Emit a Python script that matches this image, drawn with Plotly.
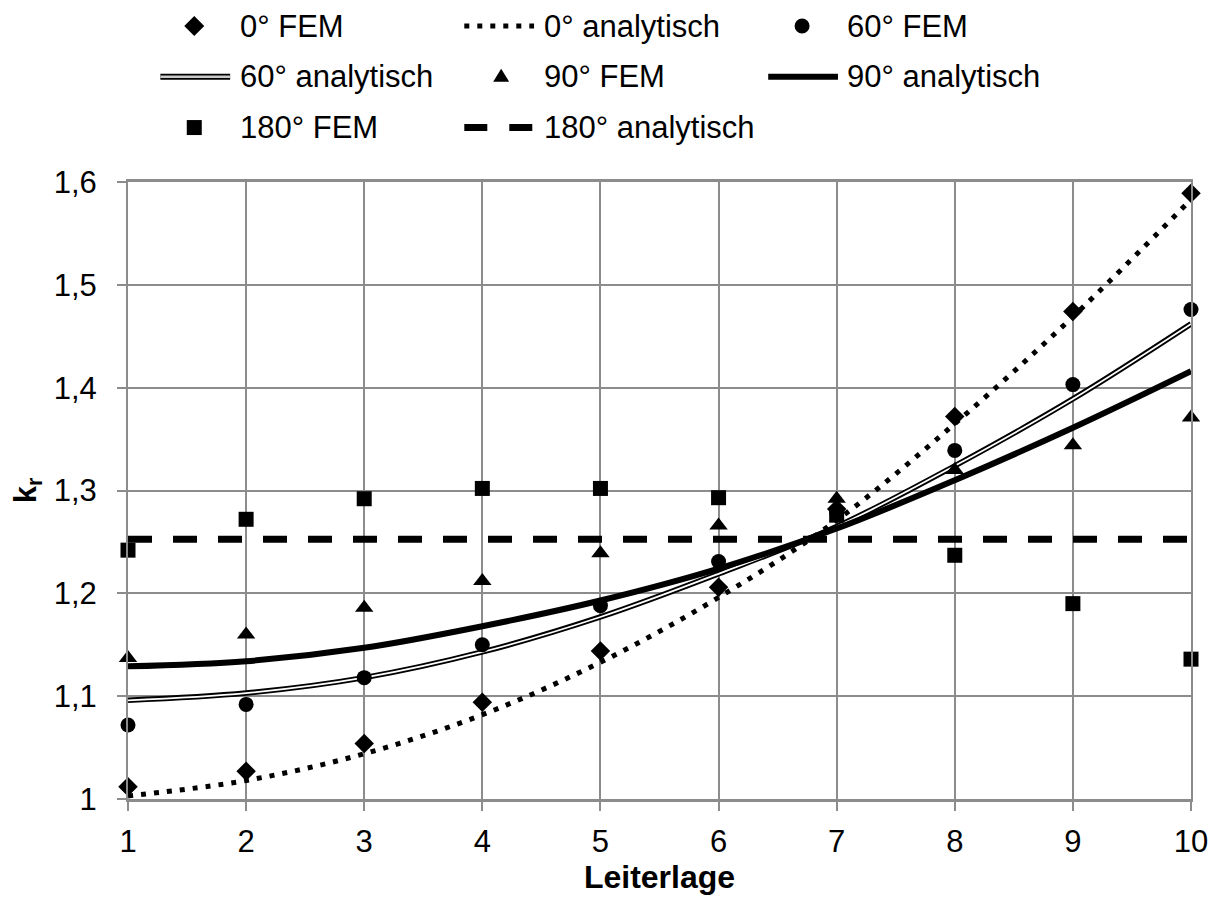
import plotly.graph_objects as go

# Conductor layer numbers (x axis)
layer = [1, 2, 3, 4, 5, 6, 7, 8, 9, 10]

# Resistance factor k_r: FEM results per winding angle
fem_0 = [1.012, 1.027, 1.054, 1.094, 1.144, 1.206, 1.282, 1.372, 1.474, 1.589]
fem_60 = [1.072, 1.092, 1.118, 1.150, 1.188, 1.231, 1.279, 1.339, 1.403, 1.476]
fem_90 = [1.137, 1.160, 1.186, 1.212, 1.239, 1.266, 1.292, 1.320, 1.344, 1.371]
fem_180 = [1.242, 1.272, 1.292, 1.302, 1.302, 1.293, 1.276, 1.237, 1.190, 1.136]

# Resistance factor k_r: analytical model per winding angle
ana_0 = [1.003, 1.018, 1.044, 1.082, 1.133, 1.196, 1.271, 1.365, 1.469, 1.583]
ana_60 = [1.096, 1.103, 1.118, 1.143, 1.177, 1.219, 1.265, 1.324, 1.389, 1.462]
ana_90 = [1.129, 1.134, 1.147, 1.168, 1.193, 1.224, 1.263, 1.310, 1.361, 1.416]
ana_180 = [1.2525, 1.2525, 1.2525, 1.2525, 1.2525, 1.2525, 1.2525, 1.2525, 1.2525, 1.2525]

# Axis ticks
x_tick_vals = layer
x_tick_text = ["1", "2", "3", "4", "5", "6", "7", "8", "9", "10"]
y_tick_vals = [1.0, 1.1, 1.2, 1.3, 1.4, 1.5, 1.6]
y_tick_text = ["1", "1,1", "1,2", "1,3", "1,4", "1,5", "1,6"]

# Legend entries
legend_labels = ["0° FEM", "0° analytisch", "60° FEM",
                 "60° analytisch", "90° FEM", "90° analytisch",
                 "180° FEM", "180° analytisch"]

FONT = "Liberation Sans, Arial, sans-serif"
GRID = "#8c8c8c"
W, H = 1220, 899
ML, MR, MT, MB = 127.5, 25.7, 181.7, 97.5

fig = go.Figure()

# analytical curves (smoothed lines)
fig.add_trace(go.Scatter(x=layer, y=ana_180, mode="lines", name=legend_labels[7],
                         line=dict(color="black", width=7, dash="24px,21px"),
                         showlegend=False))
fig.add_trace(go.Scatter(x=layer, y=ana_0, mode="lines", name=legend_labels[1],
                         line=dict(color="black", width=5, dash="5px,8px", shape="spline"),
                         showlegend=False))
fig.add_trace(go.Scatter(x=layer, y=ana_60, mode="lines", name=legend_labels[3],
                         line=dict(color="black", width=5.5, shape="spline"),
                         showlegend=False))
fig.add_trace(go.Scatter(x=layer, y=ana_60, mode="lines", name=legend_labels[3],
                         line=dict(color="white", width=1.8, shape="spline"),
                         showlegend=False, hoverinfo="skip"))
fig.add_trace(go.Scatter(x=layer, y=ana_90, mode="lines", name=legend_labels[5],
                         line=dict(color="black", width=6, shape="spline"),
                         showlegend=False))

# FEM points
for vals, sym, size, name in [
    (fem_180, "square", 15, legend_labels[6]),
    (fem_90, "triangle-up", 16, legend_labels[4]),
    (fem_60, "circle", 15, legend_labels[2]),
    (fem_0, "diamond", 15, legend_labels[0]),
]:
    fig.add_trace(go.Scatter(x=layer, y=vals, mode="markers", name=name,
                             marker=dict(symbol=sym, size=size, color="black",
                                         line=dict(width=0)),
                             cliponaxis=False, showlegend=False))


# --- hand-built legend above the plot area (pixel positions -> paper) ---
def px(x):
    return (x - ML) / (W - ML - MR)


def py(y):
    return (H - MB - y) / (H - MT - MB)


rows = [25, 76, 127]
marker_cx = [194, 502, 804]
line_x = [(160, 230), (465, 535), (770, 840)]
text_x = [238, 543, 847]

shapes = []
annotations = []


def legend_line(col, row, width, color, dash="solid"):
    x0, x1 = line_x[col]
    shapes.append(dict(type="line", xref="paper", yref="paper",
                       x0=px(x0), x1=px(x1), y0=py(rows[row]), y1=py(rows[row]),
                       line=dict(color=color, width=width, dash=dash)))


def legend_marker(col, row, path=None, circle=False):
    base = dict(xref="paper", yref="paper", xsizemode="pixel", ysizemode="pixel",
                xanchor=px(marker_cx[col]), yanchor=py(rows[row]),
                fillcolor="black", line=dict(width=0))
    if circle:
        base.update(type="circle", x0=-7.5, x1=7.5, y0=-7.5, y1=7.5)
    else:
        base.update(type="path", path=path)
    shapes.append(base)


legend_marker(0, 0, path="M-10,0 L0,10 L10,0 L0,-10 Z")
legend_line(1, 0, 5, "black", "5px,8px")
legend_marker(2, 0, circle=True)
legend_line(0, 1, 6, "black")
legend_line(0, 1, 2.5, "#cccccc")
legend_marker(1, 1, path="M-8,-5 L8,-5 L0,8 Z")
legend_line(2, 1, 6, "black")
legend_marker(0, 2, path="M-7.5,-7.5 L7.5,-7.5 L7.5,7.5 L-7.5,7.5 Z")
legend_line(1, 2, 7, "black", "23px,22px")

for i, label in enumerate(legend_labels):
    row, col = divmod(i, 3)
    annotations.append(dict(text=label, xref="paper", yref="paper",
                            x=px(text_x[col]), y=py(rows[row]),
                            xanchor="left", yanchor="middle", showarrow=False,
                            font=dict(family=FONT, size=31, color="black")))

fig.update_layout(
    width=W, height=H,
    margin=dict(l=ML, r=MR, t=MT, b=MB, pad=0),
    paper_bgcolor="white", plot_bgcolor="white",
    font=dict(family=FONT, size=31, color="black"),
    showlegend=False,
    shapes=shapes,
    annotations=annotations,
    xaxis=dict(range=[1, 10], tickvals=x_tick_vals, ticktext=x_tick_text,
               showgrid=True, gridcolor=GRID, gridwidth=2,
               showline=True, linecolor=GRID, linewidth=2.5, mirror=True,
               ticks="outside", ticklen=9, tickwidth=2, tickcolor=GRID,
               ticklabelstandoff=4, zeroline=False,
               tickfont=dict(family=FONT, size=31, color="black"),
               title=dict(text="<b>Leiterlage</b>", standoff=6,
                          font=dict(family=FONT, size=32, color="black"))),
    yaxis=dict(range=[1, 1.6], tickvals=y_tick_vals, ticktext=y_tick_text,
               showgrid=True, gridcolor=GRID, gridwidth=2,
               showline=True, linecolor=GRID, linewidth=2, mirror=True,
               ticks="outside", ticklen=9, tickwidth=2, tickcolor=GRID,
               ticklabelstandoff=14, zeroline=False,
               tickfont=dict(family=FONT, size=31, color="black"),
               title=dict(text="<b>k<sub>r</sub></b>", standoff=8,
                          font=dict(family=FONT, size=31, color="black"))),
)

fig.write_html("out.html")
